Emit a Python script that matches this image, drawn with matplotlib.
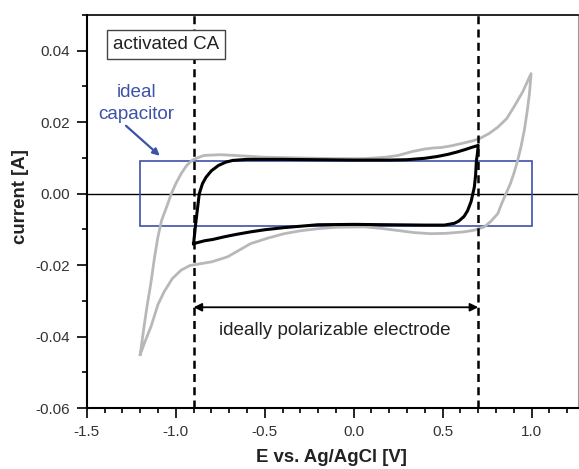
import matplotlib
matplotlib.use("Agg")
import matplotlib.pyplot as plt
from matplotlib.ticker import MultipleLocator, FormatStrFormatter
from matplotlib.patches import Rectangle

plt.rcParams['font.family'] = ['Liberation Sans', 'DejaVu Sans']

# Gray CV (activated CA, wide window)
gray_E = [-1.2, -1.178, -1.16, -1.14, -1.12, -1.10, -1.08, -1.05, -1.025, -1.0, -0.97, -0.94,
          -0.91, -0.87, -0.84, -0.75, -0.67, -0.5, -0.31, -0.1, 0.06, 0.18, 0.25, 0.33, 0.40,
          0.45, 0.49, 0.55, 0.62, 0.67, 0.707, 0.76, 0.81, 0.86, 0.90, 0.95, 0.997,
          0.988, 0.976, 0.96, 0.94, 0.92, 0.90, 0.88, 0.856, 0.83, 0.81, 0.77, 0.734, 0.68,
          0.62, 0.52, 0.434, 0.34, 0.247, 0.15, 0.06, -0.1, -0.2, -0.3, -0.39, -0.48, -0.58,
          -0.65, -0.71, -0.80, -0.86, -0.92, -0.97, -1.02, -1.066, -1.1, -1.14, -1.17, -1.2]
gray_I = [-0.045, -0.037, -0.031, -0.025, -0.018, -0.012, -0.0075, -0.0035, 0.0, 0.0028, 0.0056,
          0.0078, 0.0093, 0.0102, 0.0107, 0.0109, 0.0107, 0.0102, 0.0100, 0.0098, 0.0098,
          0.0102, 0.0107, 0.0118, 0.0125, 0.0128, 0.0129, 0.0134, 0.0142, 0.0148, 0.0154,
          0.0168, 0.0186, 0.0210, 0.0242, 0.0285, 0.0336,
          0.028, 0.0233, 0.018, 0.0130, 0.0090, 0.0056, 0.0027, 0.0, -0.0030, -0.0056, -0.0078,
          -0.0093, -0.0102, -0.0107, -0.0111, -0.0112, -0.0109, -0.0103, -0.0097, -0.0093,
          -0.0094, -0.0098, -0.0104, -0.0112, -0.0124, -0.014, -0.016, -0.0177, -0.0191,
          -0.0196, -0.0201, -0.0214, -0.0238, -0.0275, -0.031, -0.0373, -0.041, -0.045]

# Black CV (ideally polarizable window)
black_E = [-0.9, -0.888, -0.868, -0.85, -0.83, -0.80, -0.76, -0.72, -0.68, -0.6, -0.4, -0.2,
           0.0, 0.2, 0.3, 0.4, 0.47, 0.53, 0.584, 0.63, 0.66, 0.7,
           0.695, 0.69, 0.685, 0.678, 0.66, 0.64, 0.62, 0.59, 0.566, 0.51, 0.4, 0.2, 0.0,
           -0.2, -0.39, -0.5, -0.58, -0.66, -0.73, -0.79, -0.84, -0.9]
black_I = [-0.014, -0.0083, 0.0, 0.0028, 0.0046, 0.0064, 0.0079, 0.0088, 0.0093, 0.0096,
           0.0096, 0.0095, 0.0094, 0.0094, 0.0095, 0.0099, 0.0104, 0.011, 0.0117, 0.0124,
           0.0129, 0.0135,
           0.011, 0.0093, 0.005, 0.0018, -0.0022, -0.0048, -0.0064, -0.0077, -0.0083, -0.0088,
           -0.0088, -0.0087, -0.0086, -0.0087, -0.0095, -0.0101, -0.0107, -0.0114, -0.0121,
           -0.0128, -0.0132, -0.014]

window = [-0.9, 0.7]
cap_E = [-1.2, 1.0]
cap_I = [-0.009, 0.009]

fig = plt.figure(figsize=(5.79, 4.69), dpi=100)
ax = fig.add_axes([0.150, 0.130, 0.848, 0.838])

ax.axhline(0, color='black', lw=1.0, zorder=1)
ax.add_patch(Rectangle((cap_E[0], cap_I[0]), cap_E[1] - cap_E[0], cap_I[1] - cap_I[0],
                       fill=False, edgecolor='#3d52a8', lw=1.2, zorder=2))
ax.plot(gray_E, gray_I, color='#b8b8b8', lw=2.0, zorder=3)
ax.plot(black_E, black_I, color='black', lw=2.2, zorder=4)
for e in window:
    ax.axvline(e, color='black', lw=1.8, ls=(0, (3.2, 2.1)), zorder=5)

ax.annotate('', xy=(window[0], -0.0318), xytext=(window[1], -0.0318),
            arrowprops=dict(arrowstyle='<|-|>', color='black', lw=1.3,
                            mutation_scale=12, shrinkA=0, shrinkB=0))
ax.text(-0.105, -0.0383, 'ideally polarizable electrode', ha='center', va='center',
        fontsize=13.6, color='#222222')

ax.text(-1.055, 0.0418, 'activated CA', ha='center', va='center', fontsize=13.5,
        color='#222222', zorder=10,
        bbox=dict(boxstyle='square,pad=0.33', fc='white', ec='#444444', lw=1.0))
ax.text(-1.22, 0.0253, 'ideal\ncapacitor', ha='center', va='center', fontsize=13.6,
        color='#3d52a8', linespacing=1.35)
ax.annotate('', xy=(-1.09, 0.0106), xytext=(-1.28, 0.0190),
            arrowprops=dict(arrowstyle='-|>', color='#3d52a8', lw=1.6,
                            mutation_scale=10, shrinkA=0, shrinkB=0))

ax.set_xlim(-1.5, 1.26)
ax.set_ylim(-0.06, 0.05)
ax.xaxis.set_major_locator(MultipleLocator(0.5))
ax.xaxis.set_minor_locator(MultipleLocator(0.1))
ax.yaxis.set_major_locator(MultipleLocator(0.02))
ax.yaxis.set_minor_locator(MultipleLocator(0.01))
ax.xaxis.set_major_formatter(FormatStrFormatter('%.1f'))
ax.yaxis.set_major_formatter(FormatStrFormatter('%.2f'))
ax.tick_params(which='major', direction='out', length=7, width=1.2, labelsize=11,
               labelcolor='#333333', pad=5)
ax.tick_params(which='minor', direction='out', length=3.5, width=1.2)
ax.tick_params(top=False, right=False, which='both')

for s in ['left', 'bottom']:
    ax.spines[s].set_linewidth(1.5)
ax.spines['top'].set_linewidth(1.2)
ax.spines['right'].set_linewidth(0.8)
ax.spines['right'].set_color('#999999')

ax.set_xlabel('E vs. Ag/AgCl [V]', fontsize=13.4, fontweight='bold', color='#222222')
ax.set_ylabel('current [A]', fontsize=13.4, fontweight='bold', color='#222222')
ax.xaxis.set_label_coords(0.499, -0.127)
ax.yaxis.set_label_coords(-0.136, 0.537)
ax.xaxis.label.set_va('center')
ax.yaxis.label.set_va('center')

fig.savefig('out.png', dpi=100)
